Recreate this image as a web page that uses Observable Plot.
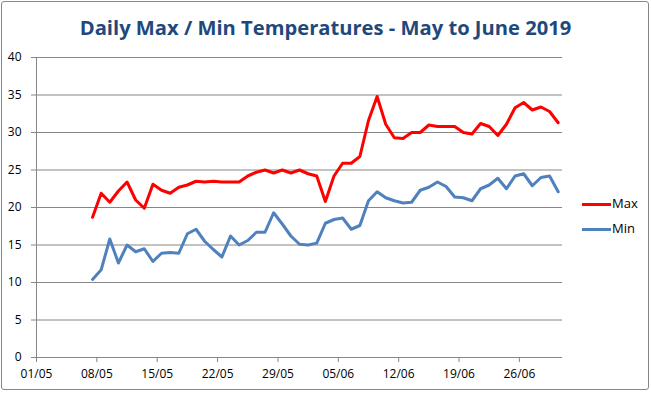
<!DOCTYPE html>
<html><head><meta charset="utf-8">
<script src="https://cdn.jsdelivr.net/npm/d3@7"></script>
<script src="https://cdn.jsdelivr.net/npm/@observablehq/plot@0.6"></script>
<style>
body{margin:0;background:#fff;}
#chart{position:relative;width:651px;height:393px;overflow:hidden;font-family:"Open Sans",sans-serif;background:#fff;}
#frame{position:absolute;left:1px;top:1px;width:648px;height:389px;box-sizing:border-box;border:1px solid #868686;border-radius:3px;}
#title{position:absolute;left:0;width:651px;top:11px;text-align:center;font-weight:bold;color:#1F497D;font-size:22px;white-space:nowrap;line-height:30px;}
#title span{display:inline-block;}
#plot{position:absolute;left:0;top:0;}
.leg{position:absolute;left:582px;font-size:13px;color:#000;}
.leg i{position:absolute;left:0;width:29px;height:3px;}
.leg span{position:absolute;left:30px;top:-9px;line-height:18px;}
</style></head>
<body>
<div id="chart">
  <div id="frame"></div>
  <div id="title"><span id="tt">Daily Max / Min Temperatures - May to June 2019</span></div>
  <div id="plot"></div>
  <div class="leg" style="top:203px"><i style="background:#FF0000"></i><span>Max</span></div>
  <div class="leg" style="top:228px"><i style="background:#4F81BD"></i><span>Min</span></div>
</div>
<script>
// Data: daily values from 07/05/2019 to 30/06/2019
const startDay = "2019-05-07";
const maxTemps = [18.7,21.9,20.7,22.2,23.4,21.0,19.9,23.1,22.3,21.9,22.7,23.0,23.5,23.4,23.5,23.4,23.4,23.4,24.2,24.7,25.0,24.6,25.0,24.6,25.0,
  24.5,24.2,20.8,24.2,25.9,25.9,26.8,31.6,34.8,31.1,29.3,29.2,30.0,30.0,31.0,30.8,30.8,30.8,30.0,29.8,31.2,30.8,29.6,31.1,33.3,34.0,33.0,33.4,32.8,31.3];
const minTemps = [10.4,11.7,15.8,12.6,15.0,14.1,14.5,12.8,13.9,14.0,13.9,16.5,17.1,15.5,14.4,13.4,16.2,15.0,15.6,16.7,16.7,19.3,17.8,16.2,15.1,
  15.0,15.25,17.9,18.4,18.6,17.1,17.6,20.9,22.1,21.3,20.9,20.6,20.7,22.3,22.7,23.4,22.8,21.4,21.3,20.9,22.5,23.0,23.9,22.5,24.2,24.5,22.9,24.0,24.2,22.1];
const seriesNames = ["Max", "Min"];
const seriesColors = ["#FF0000", "#4F81BD"];
const xTickLabels = ["01/05","08/05","15/05","22/05","29/05","05/06","12/06","19/06","26/06"];
const yTicks = [0,5,10,15,20,25,30,35,40];
const xDomainLabels = ["01/05","01/07"];

const parseDM = s => { const [d, m] = s.split("/").map(Number); return new Date(Date.UTC(2019, m - 1, d)); };
const start = new Date(startDay + "T12:00:00Z");
const rows = [];
maxTemps.forEach((v, i) => rows.push({date: d3.utcDay.offset(start, i), value: v, series: seriesNames[0]}));
minTemps.forEach((v, i) => rows.push({date: d3.utcDay.offset(start, i), value: v, series: seriesNames[1]}));
const xTicks = xTickLabels.map(parseDM);

const chart = Plot.plot({
  width: 651, height: 393,
  marginLeft: 36, marginRight: 89, marginTop: 57, marginBottom: 36,
  style: {fontFamily: '"Open Sans", sans-serif', fontSize: "12px", color: "#000", background: "transparent"},
  x: {type: "utc", domain: xDomainLabels.map(parseDM)},
  y: {domain: [0, 40]},
  color: {domain: seriesNames, range: seriesColors},
  marks: [
    Plot.gridY(yTicks.filter(t => t > 0), {stroke: "#868686", strokeOpacity: 1, strokeWidth: 1}),
    Plot.ruleX([parseDM(xDomainLabels[0])], {stroke: "#868686", strokeWidth: 1}),
    Plot.ruleY([0], {stroke: "#868686", strokeWidth: 1}),
    Plot.axisY(yTicks, {tickSize: 5, tickPadding: 10, stroke: "#868686", label: null, fill: "#000"}),
    Plot.axisX(xTicks, {tickSize: 5, tickPadding: 7, stroke: "#868686", label: null, fill: "#000", tickFormat: d3.utcFormat("%d/%m")}),
    Plot.line(rows, {x: "date", y: "value", z: "series", stroke: "series", strokeWidth: 3, strokeLinejoin: "round", curve: "linear"})
  ]
});
document.getElementById("plot").appendChild(chart);

const tt = document.getElementById("tt");
const w = tt.getBoundingClientRect().width;
tt.style.fontSize = (22 * 492 / w) + "px";
</script>
</body></html>
